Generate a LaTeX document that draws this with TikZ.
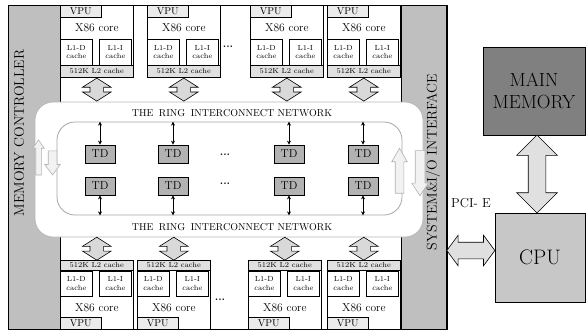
\documentclass[tikz,border=0pt]{standalone}
\usetikzlibrary{shapes.arrows, arrows.meta, positioning, calc}

\begin{document}
\begin{tikzpicture}[
    x=1pt, y=-1pt,
    bar/.style={draw, line width=0.7pt, fill=black!25, inner sep=0pt},
    corebox/.style={draw, line width=0.6pt, fill=white, minimum width=73pt, inner sep=0pt},
    vpu/.style={draw, line width=0.6pt, fill=black!8, minimum width=41pt, minimum height=12pt,
      inner sep=0pt, font=\fontsize{10}{11}\selectfont},
    l1/.style={draw, line width=0.6pt, fill=white, minimum width=32pt, minimum height=26pt,
      inner sep=0pt, align=center, font=\fontsize{7.4}{8.4}\selectfont},
    l2/.style={draw, line width=0.6pt, fill=black!12, minimum width=73pt, minimum height=12pt,
      inner sep=0pt, font=\fontsize{7.4}{8}\selectfont},
    x86/.style={font=\fontsize{11.5}{13}\selectfont},
    ringout/.style={draw=black!28, line width=0.8pt, fill=white, rounded corners=18pt,
      minimum width=388pt, minimum height=135pt},
    ringin/.style={draw=black!35, line width=0.8pt, rounded corners=18pt,
      minimum width=345pt, minimum height=93pt},
    ringtxt/.style={font=\fontsize{10}{11}\selectfont},
    tdbox/.style={draw, line width=0.7pt, fill=black!30, minimum width=30pt, minimum height=18pt,
      inner sep=0pt, font=\fontsize{11.5}{12}\selectfont},
    tdarr/.style={{Stealth[length=4pt,width=4pt]}-{Stealth[length=4pt,width=4pt]}, line width=0.6pt},
    blkv/.style={double arrow, shape border rotate=90, draw, line width=0.6pt, fill=black!15,
      minimum height=23pt, minimum width=28pt, inner sep=6.5pt,
      double arrow head extend=7.5pt, double arrow tip angle=115},
    flow/.style={single arrow, draw=black!30, line width=0.6pt, fill=black!5},
    sidetxt/.style={rotate=90, font=\fontsize{14}{14}\selectfont},
    dots/.style={font=\fontsize{11}{11}\selectfont\bfseries}
  ]
    \useasboundingbox (0,0) rectangle (586,330);

    % --- frame and side bars ---
    \node[bar, anchor=north west, minimum width=52pt, minimum height=324pt] (memctl) at (8,5) {};
    \node[bar, anchor=north east, minimum width=45pt, minimum height=324pt] (sysio) at (447,5) {};
    \draw[line width=0.7pt] (8,5) rectangle (447,329);
    \node[sidetxt] (memtxt) at (19,133) {MEMORY CONTROLLER};
    \node[sidetxt] (systxt) at (433,162) {SYSTEM\&I/O INTERFACE};

    % --- ring ---
    \node[ringout] (rout) at (229,169.5) {};
    \node[ringin]  (rin)  at (229.5,168.5) {};
    \node[ringtxt] (rtop) at (232,113) {THE\hspace{0.55em}RING\hspace{0.55em}INTERCONNECT NETWORK};
    \node[ringtxt] (rbot) at (232,227) {THE\hspace{0.55em}RING\hspace{0.55em}INTERCONNECT NETWORK};

    % --- top cores ---
    \foreach \cx [count=\i] in {60,147,250,327} {
      \node[corebox, minimum height=72pt, anchor=north west] (tc\i) at (\cx,5) {};
      \node[vpu, anchor=north west] (tv\i) at (tc\i.north west) {VPU};
      \node[x86] (tx\i) at ($(tc\i.north)+(0,23)$) {X86 core};
      \node[l1, anchor=north west] (tld\i) at ($(tc\i.north west)+(0,34)$) {L1-D\\cache};
      \node[l1, anchor=north east] (tli\i) at ($(tc\i.north east)+(-2,34)$) {L1-I\\cache};
      \node[l2, anchor=south west] (tl\i) at (tc\i.south west) {512K L2 cache};
      \node[blkv] (ta\i) at ($(tl\i.south)!.5!(tl\i.south |- rout.north)$) {};
    }
    \node[dots] (tdots) at (228,47) {...};

    % --- bottom cores ---
    \foreach \cx [count=\i] in {60,137,248,327} {
      \node[corebox, minimum height=69pt, anchor=north west] (bc\i) at (\cx,260) {};
      \node[l2, minimum height=10pt, anchor=north west] (bl\i) at (bc\i.north west) {512K L2 cache};
      \node[l1, minimum height=25pt, anchor=north west] (bld\i) at (bl\i.south west) {L1-D\\cache};
      \node[l1, minimum height=25pt, anchor=north east] (bli\i) at ($(bl\i.south east)+(-2,0)$) {L1-I\\cache};
      \node[x86] (bx\i) at ($(bc\i.south)+(0,-22)$) {X86 core};
      \node[vpu, anchor=south west] (bv\i) at (bc\i.south west) {VPU};
      \node[blkv] (ba\i) at ($(bl\i.north)!.5!(bl\i.north |- rout.south)$) {};
    }
    \node[dots] (bdots) at (220,300) {...};

    % --- TD nodes ---
    \foreach \tx [count=\j] in {100,173,289,363} {
      \node[tdbox] (tda\j) at (\tx,154) {TD};
      \node[tdbox] (tdb\j) at (\tx,186) {TD};
      \draw[tdarr] (tda\j.north) -- (tda\j.north |- rin.north);
      \draw[tdarr] (tdb\j.south) -- (tdb\j.south |- rin.south);
    }
    \node[dots] (mdots1) at (225,155) {...};
    \node[dots] (mdots2) at (225,184) {...};

    % --- ring direction ---
    \node[flow, shape border rotate=90, minimum height=35pt, inner sep=2.5pt,
      single arrow head extend=3pt, single arrow tip angle=70] (fl1) at (38.5,159.5) {};
    \node[flow, shape border rotate=270, minimum height=24pt, inner sep=4pt,
      single arrow head extend=3.5pt, single arrow tip angle=74] (fl2) at (52.5,160) {};
    \node[flow, shape border rotate=90, minimum height=45pt, inner sep=4pt,
      single arrow head extend=3.5pt, single arrow tip angle=60] (fl3) at (399.5,174.5) {};
    \node[flow, shape border rotate=270, minimum height=45pt, inner sep=4.5pt,
      single arrow head extend=3.5pt, single arrow tip angle=67] (fl4) at (420,169.5) {};

    % --- host side ---
    \node[draw, line width=0.7pt, fill=black!50, minimum width=102pt, minimum height=88pt,
      align=center, font=\fontsize{19}{22}\selectfont] (mm) at (534,91) {MAIN\\MEMORY};
    \node[draw, line width=0.7pt, fill=black!22, minimum width=90pt, minimum height=89pt,
      font=\fontsize{21}{22}\selectfont] (cpu) at (540,257.5) {CPU};
    \node[double arrow, shape border rotate=90, draw, line width=0.6pt, fill=black!12,
      minimum height=78pt, inner sep=8.5pt, double arrow head extend=11.5pt,
      double arrow tip angle=90] (mmcpu) at ($(mm.south)!.5!(cpu.north)$) {};
    \node[double arrow, draw, line width=0.6pt, fill=black!12,
      minimum height=48pt, inner sep=8pt, double arrow head extend=7pt,
      double arrow tip angle=107] (pcie) at ($(sysio.east |- cpu.west)!.5!(cpu.west)+(0,-7)$) {};
    \node[font=\fontsize{13}{14}\selectfont] (pcitxt) at (471,203) {PCI- E};
  \end{tikzpicture}
\end{document}
